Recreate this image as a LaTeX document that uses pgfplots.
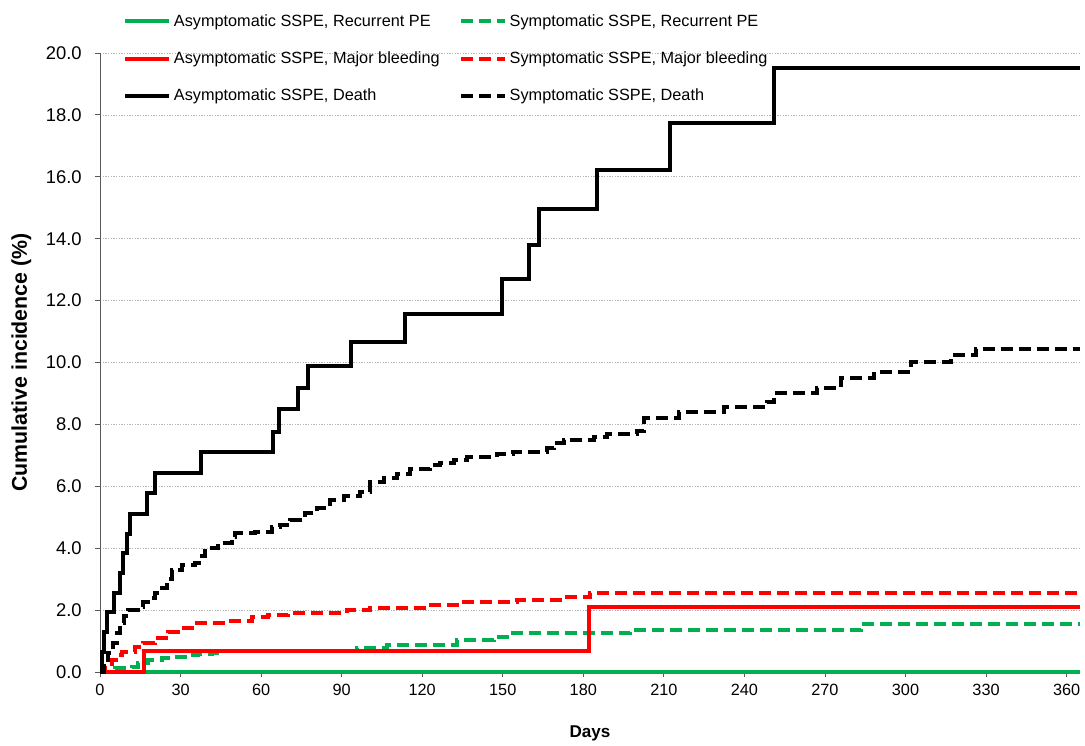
\documentclass[border=0pt]{standalone}
\usepackage{pgfplots}
\pgfplotsset{compat=1.18}
\usepackage{fontspec}
\setmainfont{Liberation Sans}
\definecolor{xlgreen}{RGB}{0,176,80}
\definecolor{xlred}{RGB}{255,0,0}
\begin{document}
\begin{tikzpicture}
\begin{axis}[
  scale only axis,
  width=735pt, height=464.25pt,
  xmin=0, xmax=365, ymin=0, ymax=20,
  clip=false,
  axis x line*=bottom, axis y line*=left,
  axis line style={black!65, line width=0.6pt},
  xtick={0,30,...,360}, ytick={0,2,...,20},
  tick align=outside, major tick length=3.75pt,
  tick style={black!65, line width=0.6pt},
  /pgf/number format/assume math mode=true,
  yticklabel style={font=\fontsize{13.8pt}{15pt}\selectfont, xshift=-6.5pt, /pgf/number format/.cd, fixed, fixed zerofill, precision=1, assume math mode=true},
  xticklabel style={font=\fontsize{12.2pt}{14pt}\selectfont, yshift=-1.5pt},
  ymajorgrids,
  grid style={black!28, line width=0.5pt, dash pattern=on 1pt off 1pt},
  xlabel={Days}, ylabel={Cumulative incidence (\%)},
  every axis x label/.style={at={(axis description cs:0.5,0)}, yshift=-45.75pt, anchor=center, font=\bfseries\fontsize{12.8pt}{14pt}\selectfont},
  every axis y label/.style={at={(axis description cs:0,0.5)}, xshift=-59pt, rotate=90, anchor=center, font=\bfseries\fontsize{16pt}{18pt}\selectfont},
  legend columns=2,
  legend cell align=left,
  legend style={draw=none, fill=none, at={(axis description cs:0,1)}, anchor=north west, xshift=17.25pt, yshift=31pt,
    font=\fontsize{12.2pt}{14pt}\selectfont, row sep=13.5pt, inner sep=0pt,
    /tikz/every even column/.append style={column sep=12.5pt}},
  legend image code/.code={\draw[#1] (0pt,0pt) -- (33pt,0pt);},
  every axis plot/.append style={line width=3pt, const plot},
  sdash/.style={dash pattern=on 9pt off 4.5pt},
]
% Asymptomatic SSPE, Recurrent PE
\addplot[xlgreen] coordinates {(0,0) (365,0)};
\addlegendentry{Asymptomatic SSPE, Recurrent PE}
% Symptomatic SSPE, Recurrent PE
\addplot[xlgreen, sdash] coordinates {
(0,0) (0.6,0) (5.6,0.12) (11.8,0.17) (14.3,0.28) (18,0.39) (23,0.44) (26.7,0.49) (31.7,0.55) (36.6,0.58) (41.6,0.62) (44.7,0.69) (95.7,0.76) (106.8,0.87) (133,1.03) (146.6,1.14) (151.6,1.25) (197.5,1.36) (283.3,1.55) (365,1.55)};
\addlegendentry{Symptomatic SSPE, Recurrent PE}
% Asymptomatic SSPE, Major bleeding
\addplot[xlred] coordinates {(0,0) (16.5,0.69) (182.3,2.1) (365,2.1)};
\addlegendentry{Asymptomatic SSPE, Major bleeding}
% Symptomatic SSPE, Major bleeding
\addplot[xlred, sdash] coordinates {
(0,0) (0.6,0) (2,0.2) (4.3,0.39) (6,0.55) (8.1,0.66) (13,0.82) (16.1,0.93) (20.5,1.09) (25.5,1.3) (30.4,1.41) (35.4,1.57) (47.8,1.66) (56.5,1.79) (62.7,1.84) (70,1.9) (92,2.0) (100.6,2.06) (121.8,2.16) (133,2.27) (155.3,2.33) (174,2.43) (182.6,2.56) (365,2.56)};
\addlegendentry{Symptomatic SSPE, Major bleeding}
% Asymptomatic SSPE, Death
\addplot[black] coordinates {
(0,0) (0.7,0.65) (1.5,1.3) (2.5,1.94) (5.2,2.55) (7.3,3.2) (8.7,3.85) (10,4.45) (11.2,5.12) (17.5,5.77) (20.5,6.42) (37.5,7.1) (64.3,7.77) (66.5,8.49) (73.9,9.19) (77.6,9.88) (93.5,10.65) (113.5,11.56) (149.7,12.7) (159.6,13.8) (163.4,14.96) (185.1,16.22) (212.4,17.74) (251,19.52) (365,19.52)};
\addlegendentry{Asymptomatic SSPE, Death}
% Symptomatic SSPE, Death
\addplot[black, sdash] coordinates {
(0,0) (0.6,0) (1.5,0.3) (3,0.6) (5,0.93) (6.2,1.25) (7.5,1.58) (9,1.8) (10.6,2.0) (14.3,2.11) (16,2.25) (18,2.38) (20.5,2.55) (23,2.7) (25,3.0) (26.7,3.3) (30.4,3.46) (35.4,3.52) (37,3.75) (39,4.0) (44,4.16) (49,4.37) (50.3,4.48) (57.8,4.53) (64,4.7) (67,4.75) (70.8,4.91) (76.4,5.13) (80.8,5.29) (85.7,5.56) (90.7,5.69) (96.9,5.83) (100.6,6.15) (105.6,6.26) (110.6,6.39) (115.5,6.55) (123,6.69) (126.7,6.74) (131.7,6.85) (136.7,6.94) (147.8,7.04) (154,7.12) (166.5,7.23) (169,7.39) (172.7,7.5) (184,7.6) (188.9,7.69) (200,7.8) (202.5,8.2) (215.5,8.41) (232.3,8.57) (248.5,8.73) (251,9.0) (267.1,9.17) (275.8,9.49) (288.2,9.7) (301.9,10.03) (316.8,10.24) (326.1,10.45) (365,10.45)};
\addlegendentry{Symptomatic SSPE, Death}
% fixed page frame
\path (rel axis cs:0,1) ++(0pt,39.75pt);
\path (rel axis cs:0,0) ++(-75pt,-54.75pt);
\path (rel axis cs:1,0) ++(3.75pt,0pt);
\end{axis}
\end{tikzpicture}
\end{document}
